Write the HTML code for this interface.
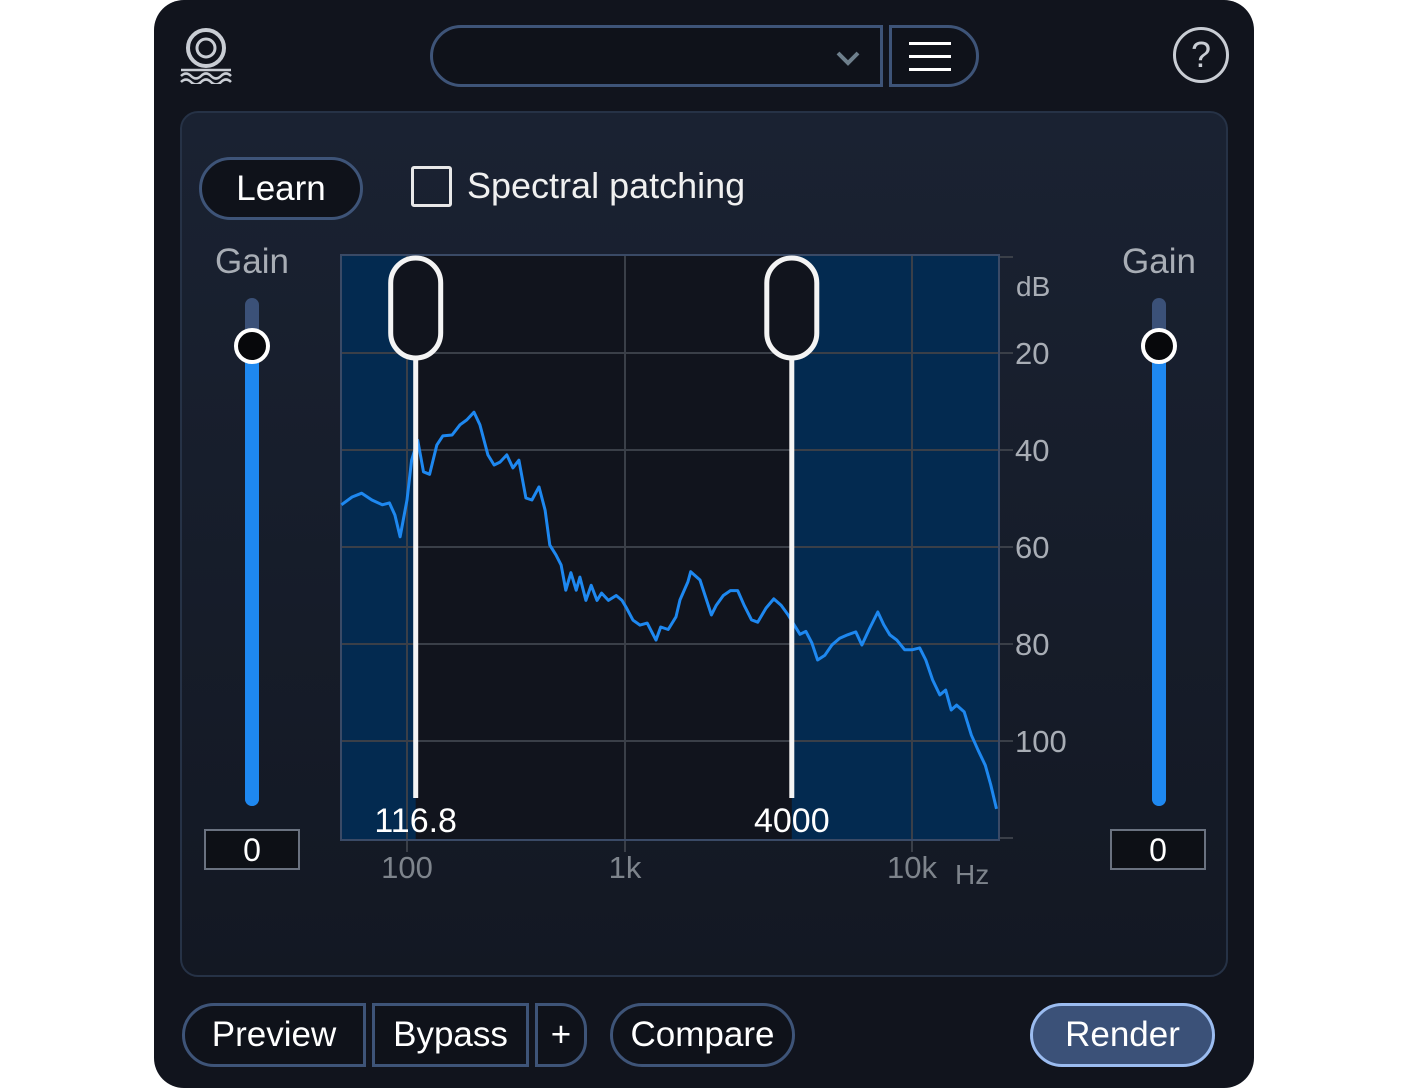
<!DOCTYPE html>
<html><head><meta charset="utf-8">
<style>
body{margin:0;width:1408px;height:1088px;background:#fff;position:relative;overflow:hidden;font-family:"Liberation Sans",sans-serif;}
.abs{position:absolute;box-sizing:border-box;}
#app{left:154px;top:0;width:1100px;height:1088px;background:#11141d;border-radius:30px;}
.btn{border:3px solid #3e5478;color:#fff;font-size:35px;display:flex;align-items:center;justify-content:center;background:#0f121a;}
</style></head><body>
<div class="abs" id="app"></div>
<svg class="abs" style="left:178px;top:26px" width="58" height="58">
<circle cx="28" cy="22" r="18" fill="none" stroke="#c9cdd4" stroke-width="4"/><circle cx="28" cy="22" r="9" fill="none" stroke="#c9cdd4" stroke-width="3"/>
<path d="M3 44h50M3 50q5-5 10 0t10 0t10 0t10 0t10 0M3 56q5-5 10 0t10 0t10 0t10 0t10 0" stroke="#c9cdd4" stroke-width="2.5" fill="none"/></svg>
<div class="abs" style="left:430px;top:25px;width:453px;height:62px;border:3px solid #3e5478;border-radius:31px 0 0 31px;background:#0f121a">
<svg class="abs" style="left:400px;top:20px" width="30" height="20"><path d="M5 5l10 10l10-10" stroke="#6e7f8c" stroke-width="4" fill="none"/></svg></div>
<div class="abs" style="left:889px;top:25px;width:90px;height:62px;border:3px solid #3e5478;border-radius:0 31px 31px 0;background:#0f121a">
<div class="abs" style="left:17px;top:14px;width:42px;height:3px;background:#fff"></div><div class="abs" style="left:17px;top:27px;width:42px;height:3px;background:#fff"></div><div class="abs" style="left:17px;top:40px;width:42px;height:3px;background:#fff"></div></div>
<div class="abs" style="left:1173px;top:27px;width:56px;height:56px;border:3px solid #c9cdd4;border-radius:50%;color:#c9cdd4;font-size:36px;text-align:center;line-height:50px">?</div>
<div class="abs" style="left:180px;top:111px;width:1048px;height:866px;border:2px solid #263246;border-radius:18px;background:linear-gradient(#1a2232,#131823)"></div>
<div class="abs btn" style="left:199px;top:157px;width:164px;height:63px;border-radius:32px;font-size:35px">Learn</div>
<div class="abs" style="left:411px;top:166px;width:41px;height:41px;border:3px solid #e8e8e8;border-radius:3px"></div>
<div class="abs" style="left:467px;top:165px;color:#f0f0f0;font-size:36px">Spectral patching</div>
<div class="abs" style="left:215px;top:242px;color:#a8adb5;font-size:35px">Gain</div>
<div class="abs" style="left:1122px;top:242px;color:#a8adb5;font-size:35px">Gain</div>
<div class="abs" style="left:245px;top:298px;width:14px;height:508px;border-radius:7px;background:#3b5178"><div class="abs" style="left:0;top:48px;width:14px;height:460px;border-radius:0 0 7px 7px;background:#1e88f0"></div></div>
<div class="abs" style="left:1152px;top:298px;width:14px;height:508px;border-radius:7px;background:#3b5178"><div class="abs" style="left:0;top:48px;width:14px;height:460px;border-radius:0 0 7px 7px;background:#1e88f0"></div></div>
<div class="abs" style="left:234px;top:328px;width:36px;height:36px;border-radius:50%;background:#07080b;border:4px solid #fff"></div>
<div class="abs" style="left:1141px;top:328px;width:36px;height:36px;border-radius:50%;background:#07080b;border:4px solid #fff"></div>
<div class="abs" style="left:204px;top:829px;width:96px;height:41px;border:2px solid #6a7280;background:#0d1016;color:#fff;font-size:32px;text-align:center;line-height:38px">0</div>
<div class="abs" style="left:1110px;top:829px;width:96px;height:41px;border:2px solid #6a7280;background:#0d1016;color:#fff;font-size:32px;text-align:center;line-height:38px">0</div>

<svg id="chart" class="abs" style="left:0;top:0" width="1408" height="1088"></svg>

<div class="abs btn" style="left:182px;top:1003px;width:184px;height:64px;border-radius:32px 0 0 32px">Preview</div>
<div class="abs btn" style="left:372px;top:1003px;width:157px;height:64px">Bypass</div>
<div class="abs btn" style="left:535px;top:1003px;width:52px;height:64px;border-radius:0 26px 26px 0">+</div>
<div class="abs btn" style="left:610px;top:1003px;width:185px;height:64px;border-radius:32px">Compare</div>
<div class="abs btn" style="left:1030px;top:1003px;width:185px;height:64px;border-radius:32px;background:#3b5178;border-color:#9bbcf0">Render</div>

<script>
const freqs=[50,56,62,69,77,83,88,93,100,105,112,119,127,137,146,161,175,188,203,216,235,251,267,287,306,326,351,374,403,430,452,482,509,535,565,597,621,662,700,744,781,839,911,969,1008,1066,1128,1195,1282,1332,1414,1505,1555,1657,1694,1825,1923,2000,2080,2200,2330,2470,2600,2760,2900,3100,3300,3500,3700,3880,4070,4270,4480,4690,4970,5260,5600,5970,6370,6690,7130,7600,7970,8370,8850,9430,10000,10640,11170,11800,12500,13100,13700,14300,15200,16100,17000,18000,18800,19700];
const levels=[51.3,49.7,48.9,50.3,51.3,50.9,53.4,57.9,50.3,42.1,38,44.5,45,39,37.1,36.9,34.8,33.8,32.2,34.8,41,43.1,42.5,41,43.7,42.1,49.9,50.3,47.6,52.4,59.6,61.6,63.7,68.9,65.3,68.9,66.2,71,67.9,71,69.5,71,70,71,72.4,75.1,76.1,75.7,79.2,76.5,77,74.4,70.9,67.2,65.1,66.8,70.9,74,72,70,69,69,72,75,75.5,72.6,70.7,72,74,76,78,77.4,79.8,83.3,82.3,80.2,78.8,78.1,77.5,80.2,76.7,73.4,76,78.1,79.2,81.2,81.2,80.8,83.3,87.4,90.5,89.5,93.6,92.6,94,98.8,101.9,105,109,114];
const yTicks=[20,40,60,80,100];
const xTicks=[100,1000,10000];
const xTickLabels=["100","1k","10k"];
const handles=[116.8,4000];
const handleLabels=["116.8","4000"];

const L=341,R=999,T=255,B=840;
function xs(f){const l=Math.log10(f);
 if(l<3) return 407+(l-2)*218; return 625+(l-3)*287;}
function ys(v){return 353+(v-20)*4.85;}
const svg=document.getElementById('chart');const NS='http://www.w3.org/2000/svg';
function mk(t,a,p){const e=document.createElementNS(NS,t);for(const k in a)e.setAttribute(k,a[k]);(p||svg).appendChild(e);return e;}
mk('rect',{x:L,y:T,width:R-L,height:B-T,fill:'#11141d'});
const HOFF=-6;
const h0=xs(handles[0])+HOFF,h1=xs(handles[1])+HOFF;
let r=mk('rect',{x:L,y:T,width:h0-L,height:B-T,fill:'#032a50'});


r=mk('rect',{x:h1,y:T,width:R-h1,height:B-T,fill:'#032a50'});


yTicks.forEach(v=>{const y=ys(v);
 mk('line',{x1:L,x2:R+14,y1:y,y2:y,stroke:'#3a3f48','stroke-width':2});
 const t=mk('text',{x:R+16,y:y+11,fill:'#a8adb5','font-size':31,'font-family':'Liberation Sans'});t.textContent=v;
 
 });
mk('line',{x1:R,x2:R+14,y1:T+2,y2:T+2,stroke:'#3a3f48','stroke-width':2});
mk('line',{x1:R,x2:R+14,y1:B-2,y2:B-2,stroke:'#3a3f48','stroke-width':2});
let u=mk('text',{x:1016,y:296,fill:'#a8adb5','font-size':28,'font-family':'Liberation Sans'});u.textContent='dB';


xTicks.forEach((f,i)=>{const x=xs(f);
 mk('line',{x1:x,x2:x,y1:T,y2:B+12,stroke:'#3a3f48','stroke-width':2});
 const t=mk('text',{x:x,y:878,fill:'#7e848c','font-size':31,'text-anchor':'middle','font-family':'Liberation Sans'});t.textContent=xTickLabels[i];
 
 });
u=mk('text',{x:955,y:884,fill:'#7e848c','font-size':28,'font-family':'Liberation Sans'});u.textContent='Hz';


mk('rect',{x:L,y:T,width:R-L,height:B-T,fill:'none',stroke:'#3a4a66','stroke-width':2});
const d=freqs.map((f,i)=>(i?'L':'M')+xs(f).toFixed(1)+' '+ys(levels[i]).toFixed(1)).join(' ');
const p=mk('path',{d:d,fill:'none',stroke:'#1e88f0','stroke-width':3,'stroke-linejoin':'round'});


handles.forEach((f,i)=>{const x=xs(f)+HOFF;
 const g=mk('g',{});
 
 
 mk('line',{x1:x,x2:x,y1:300,y2:798,stroke:'#f4f4f4','stroke-width':5},g);
 mk('rect',{x:x-25,y:258,width:50,height:100,rx:25,fill:'#11141d',stroke:'#f4f4f4','stroke-width':5},g);
 const t=mk('text',{x:x,y:832,fill:'#fff','font-size':34,'text-anchor':'middle','font-family':'Liberation Sans'},g);t.textContent=handleLabels[i];});
</script>
</body></html>
